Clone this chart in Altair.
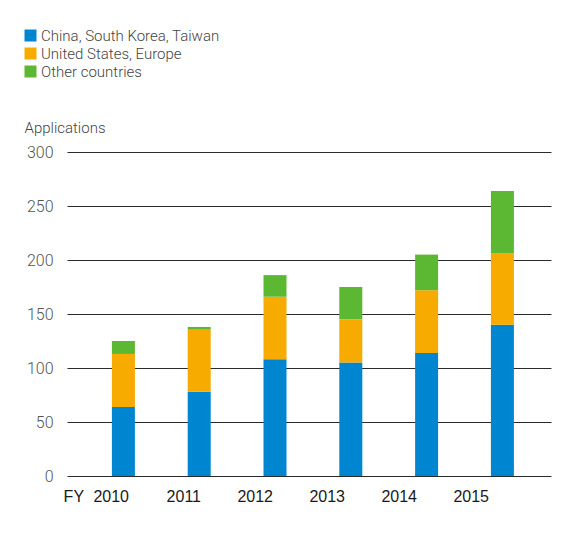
import altair as alt
import pandas as pd

years = [2010, 2011, 2012, 2013, 2014, 2015]
year_labels = ["FY\u2002\u200a2010", "2011", "2012", "2013", "2014", "2015"]
categories = ["China, South Korea, Taiwan", "United States, Europe", "Other countries"]
colors = ["#0086d1", "#f7aa00", "#5cb733"]
asia = [64, 78, 108, 105, 114, 140]
us_eu = [49, 58, 58, 40, 58, 66]
other = [12, 2, 20, 30, 33, 58]

rows = []
for i, y in enumerate(years):
    for k, (cat, vals) in enumerate(zip(categories, [asia, us_eu, other])):
        rows.append({"year": y, "category": cat, "order": k, "value": vals[i]})
df = pd.DataFrame(rows)
lab_df = pd.DataFrame({"year": years, "label": year_labels})

FONT = "Roboto"

bars = alt.Chart(df).mark_bar(size=23).encode(
    x=alt.X("year:Q", scale=alt.Scale(domain=[2009.322, 2015.575], nice=False, zero=False), axis=None),
    y=alt.Y(
        "sum(value):Q",
        stack="zero",
        scale=alt.Scale(domain=[0, 300], nice=False),
        axis=alt.Axis(
            values=[0, 50, 100, 150, 200, 250, 300],
            title="Applications",
            titleAngle=0,
            titleAlign="left",
            titleBaseline="alphabetic",
            titleX=-43,
            titleY=-20,
            titleFont=FONT,
            titleFontSize=15,
            titleFontWeight=300,
            titleColor="#444444",
            labelFont=FONT,
            labelFontSize=16,
            labelFontWeight=300,
            labelColor="#555555",
            labelPadding=14,
            ticks=False,
            domain=False,
            grid=True,
            gridColor="#2a2a2a",
            gridWidth=1,
        ),
    ),
    color=alt.Color(
        "category:N",
        scale=alt.Scale(domain=categories, range=colors),
        legend=alt.Legend(
            title=None,
            orient="none",
            legendX=-44,
            legendY=-124,
            symbolType="square",
            symbolSize=144,
            symbolStrokeWidth=0,
            symbolOpacity=1,
            labelFont=FONT,
            labelFontSize=15,
            labelFontWeight=300,
            labelColor="#444444",
            labelOffset=3,
            labelLimit=400,
            rowPadding=2,
        ),
    ),
    order=alt.Order("order:Q", sort="ascending"),
)

labels = alt.Chart(lab_df).mark_text(
    align="right", baseline="alphabetic", font="Liberation Sans", fontSize=16, color="#1a1a1a"
).encode(
    x=alt.X("year:Q", scale=alt.Scale(domain=[2009.139, 2015.861], nice=False, zero=False), axis=None),
    y=alt.value(350),
    text="label:N",
)

chart = alt.layer(bars, labels).resolve_scale(x="independent").properties(
    width=484,
    height=324,
    padding={"left": 59, "top": 144, "right": 3, "bottom": 50},
    autosize="none",
    background="white",
).configure_view(stroke=None)

chart.save("out.html", embed_options={"renderer": "svg", "actions": False})
